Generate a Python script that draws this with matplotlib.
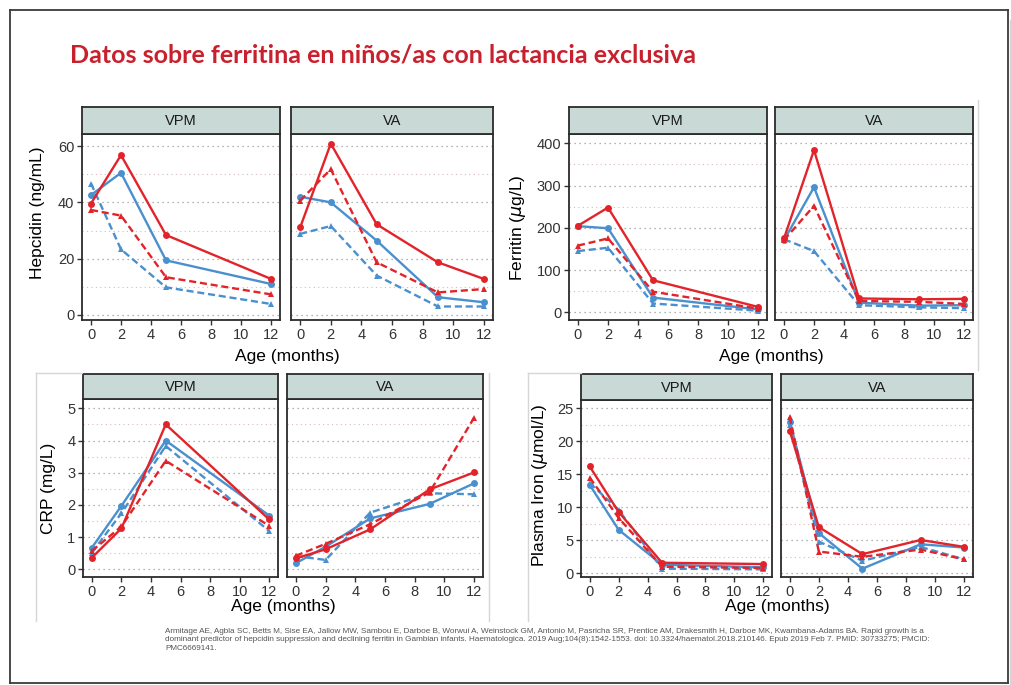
import matplotlib
matplotlib.use('Agg')
import matplotlib.pyplot as plt
import matplotlib.ticker as mticker
from matplotlib.lines import Line2D

W, H = 1011, 685

# ages (months)
ages_vpm = [0, 2, 5, 12]
ages_va = [0, 2, 5, 9, 12]

# each panel: [red solid, red dashed, blue solid, blue dashed]
hep_vpm = [[39.6, 56.8, 28.4, 12.8],
           [37.3, 35.3, 13.4, 7.3],
           [42.6, 50.5, 19.4, 11.0],
           [46.7, 23.3, 9.8, 3.9]]
hep_va = [[31.1, 60.9, 32.2, 18.7, 12.8],
          [40.6, 51.8, 18.7, 8.0, 9.2],
          [42.0, 40.0, 26.4, 6.3, 4.5],
          [28.8, 31.6, 14.0, 3.0, 3.0]]

fer_vpm = [[205, 248, 76, 13],
           [158, 175, 49, 9],
           [204, 199, 35, 7],
           [145, 153, 21, 4]]
fer_va = [[175, 384, 33, 31, 32],
          [171, 252, 27, 25, 20],
          [171, 296, 23, 16, 17],
          [173, 145, 17, 12, 10]]

crp_vpm = [[0.36, 1.27, 4.50, 1.55],
           [0.57, 1.33, 3.37, 1.35],
           [0.67, 1.97, 4.00, 1.67],
           [0.52, 1.74, 3.83, 1.19]]
crp_va = [[0.34, 0.62, 1.24, 2.48, 3.01],
          [0.42, 0.79, 1.40, 2.39, 4.71],
          [0.19, 0.70, 1.58, 2.03, 2.67],
          [0.41, 0.29, 1.76, 2.36, 2.33]]

iron_vpm = [[16.2, 9.3, 1.6, 1.4],
            [14.5, 8.4, 1.0, 0.8],
            [13.4, 6.6, 1.3, 0.9],
            [13.7, 9.6, 0.7, 0.6]]
iron_va = [[21.6, 7.0, 2.9, 5.05, 4.0],
           [23.7, 3.3, 2.5, 3.6, 2.1],
           [23.0, 6.1, 0.7, 4.4, 3.9],
           [22.5, 4.8, 1.9, 4.0, 2.1]]

RED = '#E2242A'
BLUE = '#4A90CE'
styles = [(RED, '-', 'o'), (RED, (0, (3, 1.6)), '^'), (BLUE, '-', 'o'), (BLUE, (0, (3, 1.6)), '^')]
draw_order = [3, 2, 1, 0]

plt.rcParams['font.family'] = ['Liberation Sans', 'DejaVu Sans']

fig = plt.figure(figsize=(W / 100, H / 100), dpi=100)


def fx(x):
    return x / W


def fy(y):
    return 1 - y / H


def panel(left, right, strip_top, strip_bot, bottom, label, ages, series, ylim, step, show_y):
    ax = fig.add_axes([fx(left), fy(bottom), (right - left) / W, (bottom - strip_bot) / H])
    sax = fig.add_axes([fx(left), fy(strip_bot), (right - left) / W, (strip_bot - strip_top) / H])
    sax.set_facecolor('#C9D9D5')
    sax.set_xticks([])
    sax.set_yticks([])
    for s in sax.spines.values():
        s.set_color('#2b2b2b')
        s.set_linewidth(1.3)
    sax.text(0.5, 0.47, label, ha='center', va='center', fontsize=10.5, color='#1a1a1a',
             transform=sax.transAxes)

    for i in draw_order:
        c, ls, m = styles[i]
        ax.plot(ages, series[i], color=c, linestyle=ls, marker=m, markersize=5, lw=1.7,
                markeredgewidth=0)

    ax.set_xlim(-0.6, 12.6)
    ax.set_ylim(*ylim)
    ax.set_xticks(range(0, 13, 2))
    ax.yaxis.set_major_locator(mticker.MultipleLocator(step))
    ax.yaxis.set_minor_locator(mticker.MultipleLocator(step / 2))
    ax.grid(False)
    ax.yaxis.grid(True, which='major', linestyle=(0, (1, 3)), color='#9a9a9a', lw=0.9)
    ax.yaxis.grid(True, which='minor', linestyle=(0, (1, 3)), color='#d9b9b9', lw=0.8)
    ax.set_axisbelow(True)
    ax.tick_params(axis='both', which='major', length=3.5, width=1.0, color='#333333',
                   labelsize=10.5, labelcolor='#333333', pad=2)
    ax.tick_params(axis='y', which='minor', length=0)
    if not show_y:
        ax.tick_params(axis='y', which='major', length=0, labelleft=False)
    for s in ax.spines.values():
        s.set_color('#2b2b2b')
        s.set_linewidth(1.3)
    return ax


# Hepcidin
panel(82, 280, 107, 134, 320, 'VPM', ages_vpm, hep_vpm, (-1.8, 64.3), 20, True)
panel(291, 493, 107, 134, 320, 'VA', ages_va, hep_va, (-1.8, 64.3), 20, False)
fig.text(fx(38), fy(213), 'Hepcidin (ng/mL)', rotation=90, ha='center', va='center', fontsize=12.5)
fig.text(fx(287), fy(356), 'Age (months)', ha='center', va='center', fontsize=12.5)

# Ferritin
panel(569, 767, 107, 134, 320, 'VPM', ages_vpm, fer_vpm, (-18, 422), 100, True)
panel(775, 973, 107, 134, 320, 'VA', ages_va, fer_va, (-18, 422), 100, False)
fig.text(fx(518), fy(228), r'Ferritin ($\mu$g/L)', rotation=90, ha='center', va='center', fontsize=12.5)
fig.text(fx(771), fy(356), 'Age (months)', ha='center', va='center', fontsize=12.5)

# CRP
panel(83, 278, 374, 399, 577, 'VPM', ages_vpm, crp_vpm, (-0.24, 5.29), 1, True)
panel(287, 483, 374, 399, 577, 'VA', ages_va, crp_va, (-0.24, 5.29), 1, False)
fig.text(fx(48), fy(488), 'CRP (mg/L)', rotation=90, ha='center', va='center', fontsize=12.5)
fig.text(fx(283), fy(607), 'Age (months)', ha='center', va='center', fontsize=12.5)

# Plasma iron
panel(581, 772, 374, 400, 577, 'VPM', ages_vpm, iron_vpm, (-0.56, 26.26), 5, True)
panel(781, 973, 374, 400, 577, 'VA', ages_va, iron_va, (-0.56, 26.26), 5, False)
fig.text(fx(540), fy(485), r'Plasma Iron ($\mu$mol/L)', rotation=90, ha='center', va='center', fontsize=12.5)
fig.text(fx(777), fy(607), 'Age (months)', ha='center', va='center', fontsize=12.5)

# slide frame and faint edges of pasted images
frame = [((10, 1008), (10, 10)), ((10, 1008), (683, 683)), ((10, 10), (10, 683)), ((1008, 1008), (10, 683))]
for xs, ys in frame:
    fig.add_artist(Line2D([fx(v) for v in xs], [fy(v) for v in ys], color='#3a3a3a', lw=1.3))
edges = [((978, 978), (100, 370)), ((36, 36), (373, 621)), ((36, 82), (373, 373)),
         ((489, 489), (373, 621)), ((528, 528), (373, 621)), ((528, 581), (373, 373)),
         ((1010, 1010), (20, 685))]
for xs, ys in edges:
    fig.add_artist(Line2D([fx(v) for v in xs], [fy(v) for v in ys], color='#d6d6d6', lw=1.0))

fig.text(fx(70), fy(55), 'Datos sobre ferritina en niños/as con lactancia exclusiva',
         color='#C8202C', fontsize=18, fontweight='bold', family=['Lato', 'DejaVu Sans'],
         ha='left', va='center')

cite = ('Armitage AE, Agbla SC, Betts M, Sise EA, Jallow MW, Sambou E, Darboe B, Worwui A, Weinstock GM, Antonio M, '
        'Pasricha SR, Prentice AM, Drakesmith H, Darboe MK, Kwambana-Adams BA. Rapid growth is a\n'
        'dominant predictor of hepcidin suppression and declining ferritin in Gambian infants. Haematologica. '
        '2019 Aug;104(8):1542-1553. doi: 10.3324/haematol.2018.210146. Epub 2019 Feb 7. PMID: 30733275; PMCID:\n'
        'PMC6669141.')
fig.text(fx(165), fy(628), cite, color='#555555', fontsize=5.9, ha='left', va='top', linespacing=1.25,
         family=['Liberation Sans Narrow', 'Liberation Sans'])

fig.savefig('out.png', dpi=100, facecolor='white')
